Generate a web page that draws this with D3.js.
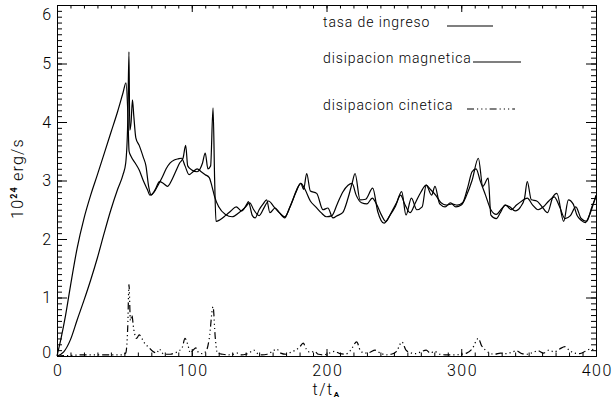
<!DOCTYPE html>
<html>
<head>
<meta charset="utf-8">
<script src="https://cdn.jsdelivr.net/npm/d3@7"></script>
<style>
  body { margin: 0; background: #fff; }
  svg { display: block; }
  text { font-family: Roboto, "DejaVu Sans", sans-serif; font-weight: 300; fill: #000; }
</style>
</head>
<body>
<div id="svg-container"></div>
<script>
const width = 615
const height = 411
const margins = { left: 57, right: 19, top: 5, bottom: 55 }

// DATA
const tIngreso = [0, 3, 6, 10, 15, 20, 25, 30, 35, 40, 45, 49, 51.2, 52.5, 53.5, 55, 58, 61, 64, 67, 69, 72, 75, 78, 81, 84, 87, 90, 92.5, 95, 98, 101, 104, 107, 110, 113, 115, 117, 120, 125, 130, 135, 140, 143, 146, 150, 154, 157, 161, 165, 169, 173, 177, 180.9, 184, 188, 192, 196, 200, 204, 208, 212, 216, 219, 222, 226, 230, 234, 237, 241, 244, 248, 252, 255, 258, 262, 266, 270, 274, 277, 281, 285, 289, 293, 297, 301, 305, 308, 311, 314, 318, 322, 326, 330, 333, 337, 341, 345, 349, 353, 357, 361, 365, 369, 373, 377, 381, 385, 389, 393, 397, 400]
const vIngreso = [0, 0.3, 0.65, 1.2, 1.85, 2.35, 2.75, 3.1, 3.46, 3.82, 4.18, 4.5, 4.67, 4.2, 3.5, 3.41, 3.3, 3.18, 3.0, 2.85, 2.75, 2.8, 2.92, 3.05, 3.2, 3.3, 3.35, 3.37, 3.38, 3.25, 3.1, 3.15, 3.2, 3.15, 3.1, 3.05, 2.9, 2.72, 2.55, 2.42, 2.38, 2.45, 2.55, 2.62, 2.5, 2.4, 2.55, 2.65, 2.55, 2.45, 2.38, 2.55, 2.78, 2.95, 2.85, 2.65, 2.55, 2.45, 2.38, 2.4, 2.6, 2.8, 2.92, 2.95, 2.75, 2.62, 2.6, 2.7, 2.6, 2.4, 2.3, 2.45, 2.62, 2.75, 2.6, 2.45, 2.62, 2.8, 2.92, 2.85, 2.75, 2.62, 2.58, 2.6, 2.58, 2.62, 2.9, 3.15, 3.2, 3.0, 2.75, 2.5, 2.42, 2.52, 2.58, 2.5, 2.58, 2.65, 2.7, 2.58, 2.5, 2.55, 2.65, 2.72, 2.55, 2.35, 2.4, 2.55, 2.35, 2.3, 2.55, 2.72]

const tMagnetica = [0, 5, 10, 15, 20, 25, 30, 35, 40, 45, 49, 51, 52.5, 53.4, 54, 55, 56, 57, 58.5, 61, 64, 66, 68, 70, 73, 76, 79, 82, 85, 88, 91, 93.5, 95.5, 97, 100, 104, 108, 110, 112, 114, 115.8, 117, 118, 121, 125, 129, 133, 137, 141, 142, 145, 147, 150, 153, 155.6, 158, 161.8, 165, 169, 172, 175, 178, 181, 183, 185.3, 188, 192.7, 197.4, 201, 204.8, 208, 212, 216, 219, 221.2, 224.9, 229, 234.3, 238, 242.7, 247, 251, 255.8, 259, 263, 267, 271, 274, 278, 280.5, 284, 288, 292, 296, 300, 304, 308, 312.7, 316, 320, 322, 326, 329, 332.5, 336, 340, 344, 347, 349, 352, 356, 360, 364, 368, 371, 376, 379.5, 383, 386, 389, 392, 395, 400]
const vMagnetica = [0, 0.07, 0.28, 0.62, 0.95, 1.3, 1.68, 2.1, 2.5, 2.85, 3.1, 3.3, 4.0, 5.2, 3.86, 4.0, 4.38, 4.1, 3.73, 3.6, 3.4, 3.25, 2.9, 2.75, 2.85, 2.98, 2.95, 2.9, 3.0, 3.15, 3.3, 3.38, 3.6, 3.25, 3.18, 3.15, 3.3, 3.47, 3.2, 3.25, 4.24, 3.0, 2.3, 2.33, 2.4, 2.48, 2.55, 2.48, 2.6, 2.64, 2.4, 2.36, 2.5, 2.6, 2.67, 2.45, 2.53, 2.45, 2.36, 2.5, 2.67, 2.85, 2.95, 2.85, 3.12, 2.82, 2.78, 2.5, 2.53, 2.36, 2.4, 2.45, 2.7, 2.95, 3.12, 2.67, 2.68, 2.87, 2.47, 2.27, 2.4, 2.55, 2.81, 2.41, 2.7, 2.5, 2.55, 2.92, 2.75, 2.9, 2.6, 2.55, 2.62, 2.55, 2.58, 2.75, 3.0, 3.38, 2.9, 3.04, 2.41, 2.35, 2.45, 2.58, 2.55, 2.48, 2.55, 2.7, 2.98, 2.67, 2.65, 2.55, 2.45, 2.72, 2.78, 2.3, 2.67, 2.6, 2.4, 2.32, 2.28, 2.4, 2.75]

const tCinetica = [0, 10, 20, 30, 40, 48, 51, 52.5, 53.4, 54.5, 55.5, 57, 59, 61, 63, 65, 68, 71, 74, 76, 78, 81, 84, 87, 90, 93, 95, 97, 99, 101, 103, 105, 108, 111, 113, 115.8, 117.5, 119, 123, 127, 131, 134, 137, 140, 143, 146, 149, 152, 156, 160, 163, 166, 170, 174, 177, 180, 182.7, 185, 188, 191, 194, 198, 202, 206, 210, 214, 218, 222.4, 225, 228, 232, 236, 240, 244, 248, 252, 256, 259, 262, 266, 270, 274, 277, 280, 284, 288, 292, 296, 300, 304, 308, 312.7, 315, 318, 321, 325, 329, 333, 337, 341, 345, 349, 353, 357, 361, 365, 369, 373, 377, 380, 384, 388, 392, 396, 400]
const vCinetica = [0, 0.01, 0.02, 0.02, 0.02, 0.02, 0.05, 0.5, 1.22, 0.6, 0.7, 0.45, 0.3, 0.36, 0.3, 0.22, 0.15, 0.08, 0.05, 0.12, 0.05, 0.03, 0.03, 0.05, 0.08, 0.15, 0.3, 0.2, 0.05, 0.1, 0.14, 0.06, 0.04, 0.1, 0.3, 0.84, 0.3, 0.05, 0.03, 0.02, 0.03, 0.05, 0.02, 0.03, 0.06, 0.1, 0.04, 0.02, 0.03, 0.08, 0.12, 0.05, 0.03, 0.07, 0.1, 0.15, 0.22, 0.12, 0.06, 0.08, 0.03, 0.02, 0.05, 0.08, 0.04, 0.03, 0.1, 0.24, 0.1, 0.05, 0.06, 0.1, 0.05, 0.02, 0.03, 0.08, 0.24, 0.1, 0.06, 0.04, 0.07, 0.1, 0.05, 0.08, 0.03, 0.02, 0.02, 0.02, 0.03, 0.05, 0.12, 0.3, 0.18, 0.1, 0.05, 0.03, 0.05, 0.04, 0.06, 0.09, 0.04, 0.03, 0.06, 0.09, 0.05, 0.1, 0.07, 0.12, 0.16, 0.1, 0.05, 0.04, 0.08, 0.12, 0.08]

const legendLabels = ["tasa de ingreso", "disipacion magnetica", "disipacion cinetica"]
const xTicks = [0, 100, 200, 300, 400]
const yTicks = [0, 1, 2, 3, 4, 5, 6]

const svg = d3
  .select("#svg-container")
  .append("svg")
  .attr("width", width)
  .attr("height", height)

const xScale = d3
  .scaleLinear()
  .domain([0, 400])
  .range([margins.left, width - margins.right])
const yScale = d3
  .scaleLinear()
  .domain([0, 6])
  .range([height - margins.bottom, margins.top])

// AXES (IDL style box, ticks pointing inside)
const xMinor = d3.range(0, 401, 10)
const yMinor = d3.range(0, 60.5, 1).map((d) => d / 10)

const addAxis = function (gen, transform, cls) {
  return svg
    .append("g")
    .attr("class", cls)
    .attr("transform", transform)
    .call(gen)
    .call((g) => g.selectAll("path, line").attr("stroke", "#000").attr("stroke-width", 1))
    .call((g) =>
      g.selectAll("text")
        .style("font-size", "16px")
        .style("letter-spacing", "1.5px")
        .attr("fill", "#000")
    )
}

const bottomY = height - margins.bottom
const rightX = width - margins.right

addAxis(d3.axisBottom(xScale).tickValues(xMinor).tickFormat("").tickSizeInner(-3.5).tickSizeOuter(0), `translate(0,${bottomY})`, "x-minor")
addAxis(d3.axisBottom(xScale).tickValues(xTicks).tickFormat(d3.format("d")).tickSizeInner(-7).tickSizeOuter(0), `translate(0,${bottomY})`, "x-axis")
addAxis(d3.axisTop(xScale).tickValues(xMinor).tickFormat("").tickSizeInner(-3.5).tickSizeOuter(0), `translate(0,${margins.top})`, "x-top-minor")
addAxis(d3.axisTop(xScale).tickValues(xTicks).tickFormat("").tickSizeInner(-7).tickSizeOuter(0), `translate(0,${margins.top})`, "x-top")

addAxis(d3.axisLeft(yScale).tickValues(yMinor).tickFormat("").tickSizeInner(-5).tickSizeOuter(0), `translate(${margins.left},0)`, "y-minor")
addAxis(d3.axisLeft(yScale).tickValues(yTicks).tickFormat(d3.format("d")).tickSizeInner(-10).tickSizeOuter(0).tickPadding(6), `translate(${margins.left},0)`, "y-axis")
addAxis(d3.axisRight(yScale).tickValues(yMinor).tickFormat("").tickSizeInner(-5).tickSizeOuter(0), `translate(${rightX},0)`, "y-right-minor")
addAxis(d3.axisRight(yScale).tickValues(yTicks).tickFormat("").tickSizeInner(-10).tickSizeOuter(0), `translate(${rightX},0)`, "y-right")

svg.selectAll(".x-axis text").attr("dy", "0.35em").attr("y", 14).attr("dx", "0.75px")
// end labels sit inside the box, as in the reference
svg.selectAll(".y-axis text")
  .attr("y", (d) => Math.min(Math.max(yScale(d), 14), 352) - yScale(d))
  .style("letter-spacing", "0px")

// AXIS TITLES
const yTitle = svg
  .append("text")
  .attr("transform", `translate(23,${(bottomY + margins.top) / 2 - 2}) rotate(-90)`)
  .attr("text-anchor", "middle")
  .style("font-size", "16px")
  .style("letter-spacing", "1.2px")
yTitle.append("tspan").text("10")
yTitle.append("tspan").attr("dy", -6).style("font-size", "9px").style("font-weight", 700).text("24")
yTitle.append("tspan").attr("dy", 6).text(" erg/s")

const xTitle = svg
  .append("text")
  .attr("x", xScale(200))
  .attr("y", 395)
  .attr("text-anchor", "middle")
  .style("font-size", "16px")
  .style("letter-spacing", "1.5px")
xTitle.append("tspan").text("t/t")
xTitle.append("tspan").attr("dy", 2).style("font-size", "8px").style("font-weight", 700).text("A")

// LINES
const makeLine = (ts) =>
  d3
    .line()
    .curve(d3.curveMonotoneX)
    .x((d, i) => xScale(ts[i]))
    .y((d) => yScale(d))

const series = [
  { t: tIngreso, v: vIngreso, dash: null },
  { t: tMagnetica, v: vMagnetica, dash: null },
  { t: tCinetica, v: vCinetica, dash: "7,3,1.2,3,1.2,3,1.2,3" },
]

svg
  .selectAll(".serie")
  .data(series)
  .join("path")
  .attr("class", "serie")
  .attr("d", (d) => makeLine(d.t)(d.v))
  .attr("fill", "none")
  .attr("stroke", "#000")
  .attr("stroke-width", 1.2)
  .attr("stroke-dasharray", (d) => d.dash)

// LEGEND
const legendPos = [
  { x: 323, y: 27, x1: 447, x2: 493 },
  { x: 323, y: 63, x1: 473, x2: 521 },
  { x: 323, y: 110, x1: 467, x2: 515 },
]
const legend = svg
  .selectAll(".legend")
  .data(legendLabels)
  .join("g")
  .attr("class", "legend")

legend
  .append("text")
  .attr("x", (d, i) => legendPos[i].x)
  .attr("y", (d, i) => legendPos[i].y)
  .style("font-size", "14px")
  .style("letter-spacing", "0.9px")
  .text((d) => d)

legend
  .append("line")
  .attr("x1", (d, i) => legendPos[i].x1)
  .attr("x2", (d, i) => legendPos[i].x2)
  .attr("y1", (d, i) => legendPos[i].y - 1)
  .attr("y2", (d, i) => legendPos[i].y - 1)
  .attr("stroke", "#000")
  .attr("stroke-width", 1.2)
  .attr("stroke-dasharray", (d, i) => series[i].dash)
</script>
</body>
</html>
